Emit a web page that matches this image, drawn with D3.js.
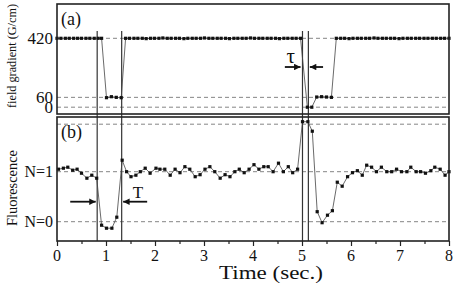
<!DOCTYPE html>
<html>
<head>
<meta charset="utf-8">
<script src="https://cdn.jsdelivr.net/npm/d3@7"></script>
<style>
  html, body { margin: 0; padding: 0; background: #fff; }
  text { font-family: "Liberation Serif", "DejaVu Serif", serif; fill: #111; }
</style>
</head>
<body>
<div id="chart"></div>
<script>
const width = 457;
const height = 286;

// (a) field gradient, G/cm
const gradTime = [
  0.00, 0.08, 0.17, 0.25, 0.34, 0.42, 0.50, 0.59, 0.67, 0.76, 0.84, 0.91,
  1.01, 1.11, 1.21, 1.31,
  1.40, 1.48, 1.57, 1.65, 1.74, 1.82, 1.91, 1.99, 2.08, 2.16, 2.25, 2.33, 2.42, 2.50,
  2.59, 2.67, 2.76, 2.84, 2.93, 3.01, 3.10, 3.18, 3.27, 3.35, 3.44, 3.52, 3.61, 3.69,
  3.78, 3.86, 3.95, 4.03, 4.12, 4.20, 4.29, 4.37, 4.46, 4.54, 4.63, 4.71, 4.80, 4.88, 4.97,
  5.11, 5.20, 5.30, 5.40, 5.50, 5.60,
  5.70, 5.79, 5.87, 5.96, 6.04, 6.13, 6.21, 6.30, 6.38, 6.47, 6.55, 6.64, 6.72, 6.81,
  6.89, 6.98, 7.06, 7.15, 7.23, 7.32, 7.40, 7.49, 7.57, 7.66, 7.74, 7.83, 7.91, 8.00
];
const gradValue = [
  420, 420, 420, 420, 420, 420, 420, 420, 420, 420, 420, 420,
  58, 64, 60, 58,
  420, 420, 420, 420, 420, 418, 420, 420, 420, 422, 420, 420, 420, 420,
  418, 420, 420, 420, 420, 422, 420, 420, 420, 420, 420, 418, 420, 420,
  420, 420, 422, 420, 420, 420, 420, 420, 420, 418, 420, 420, 420, 420, 420,
  0, 0, 62, 64, 62, 60,
  420, 420, 420, 418, 420, 420, 420, 420, 420, 422, 420, 420, 420, 420,
  420, 418, 420, 420, 420, 420, 420, 420, 420, 420, 420, 420, 420, 420
];
const gradRefs = [420, 60, 0];
const gradTicks = ["420", "60", "0"];

// (b) fluorescence, in atom number
const fluoTime = [
  0.03, 0.13, 0.22, 0.32, 0.41, 0.50, 0.61, 0.71, 0.81, 0.91,
  1.01, 1.12, 1.22, 1.33, 1.42, 1.51, 1.61, 1.70, 1.80, 1.90,
  2.02, 2.10, 2.20, 2.31, 2.41, 2.51, 2.61, 2.71, 2.82, 2.92,
  3.02, 3.12, 3.22, 3.33, 3.43, 3.53, 3.63, 3.72, 3.82, 3.92,
  4.02, 4.12, 4.22, 4.31, 4.41, 4.52, 4.62, 4.72, 4.81, 4.91,
  5.01, 5.12, 5.21, 5.31, 5.41, 5.52, 5.62, 5.72, 5.82, 5.93,
  6.03, 6.13, 6.23, 6.32, 6.42, 6.52, 6.62, 6.73, 6.83, 6.93,
  7.03, 7.14, 7.22, 7.33, 7.42, 7.52, 7.63, 7.71, 7.82, 7.92, 8.00
];
const fluoValue = [
  1.05, 1.07, 1.09, 1.03, 1.05, 0.97, 0.87, 0.93, 0.87, -0.07,
  -0.13, -0.13, 0.09, 1.23, 1.00, 0.90, 0.93, 1.00, 1.07, 0.97,
  1.07, 1.05, 1.05, 0.93, 1.05, 0.98, 1.10, 1.05, 0.90, 0.94,
  1.05, 1.10, 1.00, 0.87, 0.94, 0.90, 1.00, 1.05, 0.98, 1.05,
  1.14, 1.05, 1.10, 1.10, 1.00, 1.17, 1.00, 1.10, 0.98, 1.05,
  2.00, 2.00, 1.81, 0.20, -0.02, 0.13, 0.22, 0.79, 0.71, 0.90,
  0.98, 1.02, 0.93, 1.13, 1.09, 1.00, 1.09, 1.00, 1.00, 1.05,
  1.00, 1.00, 1.09, 1.00, 1.00, 0.97, 1.02, 1.09, 1.05, 0.93, 1.00
];
const fluoRefs = [1.95, 1, 0];
const fluoTicks = ["N=1", "N=0"];
const fluoTickVals = [1, 0];

// marker times (vertical lines) and x ticks
const markTimes = [0.82, 1.32, 5.01, 5.13];
const xMajor = [0, 1, 2, 3, 4, 5, 6, 7, 8];
const xMinor = [0.5, 1.5, 2.5, 3.5, 4.5, 5.5, 6.5, 7.5];

const svg = d3.select("#chart")
  .append("svg")
  .attr("width", width)
  .attr("height", height);

const defs = svg.append("defs");
defs.append("marker")
  .attr("id", "head")
  .attr("viewBox", "0 0 10 10")
  .attr("refX", 10).attr("refY", 5)
  .attr("markerWidth", 4).attr("markerHeight", 3.6)
  .attr("markerUnits", "strokeWidth")
  .attr("orient", "auto")
  .append("path")
  .attr("d", "M0,0L10,5L0,10z")
  .attr("fill", "#111");

// scales
const x = d3.scaleLinear().domain([0, 8]).range([57, 449]);
const yA = d3.scaleLinear().domain([0, 420]).range([107.2, 38.3]);
const yB = d3.scaleLinear().domain([0, 1]).range([221.7, 171.7]);

const panelA = { top: 4, bottom: 114 };
const panelB = { top: 117, bottom: 241 };

// 参考虚线
function dashes(scale, vals) {
  svg.append("g")
    .selectAll("line")
    .data(vals)
    .enter()
    .append("line")
    .attr("x1", x(0)).attr("x2", x(8))
    .attr("y1", d => scale(d)).attr("y2", d => scale(d))
    .attr("stroke", "#666")
    .attr("stroke-width", 0.8)
    .attr("stroke-dasharray", "4,3");
}
dashes(yA, gradRefs);
dashes(yB, fluoRefs);

// 竖线
svg.append("g")
  .selectAll("line")
  .data(markTimes)
  .enter()
  .append("line")
  .attr("x1", d => x(d)).attr("x2", d => x(d))
  .attr("y1", 31).attr("y2", panelB.bottom)
  .attr("stroke", "#333")
  .attr("stroke-width", 1.2);

// 数据
function series(scale, ts, vs) {
  const pts = ts.map((t, i) => [t, vs[i]]);
  const line = d3.line().x(d => x(d[0])).y(d => scale(d[1]));
  svg.append("path")
    .datum(pts)
    .attr("fill", "none")
    .attr("stroke", "#444")
    .attr("stroke-width", 0.8)
    .attr("d", line);
  svg.append("g")
    .selectAll("rect")
    .data(pts)
    .enter()
    .append("rect")
    .attr("x", d => x(d[0]) - 1.6)
    .attr("y", d => scale(d[1]) - 1.6)
    .attr("width", 3.2)
    .attr("height", 3.2)
    .attr("fill", "#111");
}
series(yA, gradTime, gradValue);
series(yB, fluoTime, fluoValue);

// 边框
[panelA, panelB].forEach(p => {
  svg.append("rect")
    .attr("x", x(0)).attr("y", p.top)
    .attr("width", x(8) - x(0)).attr("height", p.bottom - p.top)
    .attr("fill", "none")
    .attr("stroke", "#222")
    .attr("stroke-width", 1.6);
});

// x axis
const gx = svg.append("g").attr("transform", `translate(0,${panelB.bottom})`);
gx.call(d3.axisBottom(x).tickValues(xMajor).tickSize(5).tickFormat(""));
gx.append("g").call(d3.axisBottom(x).tickValues(xMinor).tickSize(3).tickFormat(""));
gx.selectAll(".domain").remove();
gx.selectAll("line").attr("stroke", "#222").attr("stroke-width", 1.2);

svg.append("g")
  .selectAll("text")
  .data(xMajor)
  .enter()
  .append("text")
  .attr("x", d => x(d))
  .attr("y", 261)
  .attr("text-anchor", "middle")
  .attr("font-size", 16)
  .text(d => d);

svg.append("text")
  .attr("x", 219)
  .attr("y", 279)
  .attr("font-size", 18)
  .attr("textLength", 104)
  .attr("lengthAdjust", "spacingAndGlyphs")
  .text("Time (sec.)");

// y tick labels
svg.append("g")
  .selectAll("text")
  .data(gradRefs)
  .enter()
  .append("text")
  .attr("x", 53)
  .attr("y", d => yA(d) + 6)
  .attr("text-anchor", "end")
  .attr("font-size", 17)
  .text((d, i) => gradTicks[i]);

svg.append("g")
  .selectAll("text")
  .data(fluoTickVals)
  .enter()
  .append("text")
  .attr("x", 53)
  .attr("y", d => yB(d) + 5.5)
  .attr("text-anchor", "end")
  .attr("font-size", 16)
  .text((d, i) => fluoTicks[i]);

// y titles
svg.append("text")
  .attr("transform", "translate(16,108) rotate(-90)")
  .attr("font-size", 13)
  .attr("textLength", 104)
  .attr("lengthAdjust", "spacingAndGlyphs")
  .text("field gradient (G/cm)");

svg.append("text")
  .attr("transform", "translate(17,226) rotate(-90)")
  .attr("font-size", 15)
  .attr("textLength", 76)
  .attr("lengthAdjust", "spacingAndGlyphs")
  .text("Fluorescence");

// panel tags
svg.append("text").attr("x", 61).attr("y", 25).attr("font-size", 18).text("(a)");
svg.append("text").attr("x", 61).attr("y", 138).attr("font-size", 18).text("(b)");

// 箭头
function arrow(scale, t0, t1, v) {
  svg.append("line")
    .attr("x1", x(t0)).attr("x2", x(t1))
    .attr("y1", scale(v)).attr("y2", scale(v))
    .attr("stroke", "#111")
    .attr("stroke-width", 1.8)
    .attr("marker-end", "url(#head)");
}
arrow(yB, 0.27, 0.79, 0.4);
arrow(yB, 1.84, 1.35, 0.4);
arrow(yA, 4.65, 4.97, 245);
arrow(yA, 5.43, 5.16, 245);

svg.append("text")
  .attr("x", x(1.65)).attr("y", yB(0.47))
  .attr("text-anchor", "middle")
  .attr("font-size", 17)
  .text("T");

svg.append("text")
  .attr("x", x(4.77)).attr("y", yA(272))
  .attr("text-anchor", "middle")
  .attr("font-size", 21)
  .text("τ");
</script>
</body>
</html>
